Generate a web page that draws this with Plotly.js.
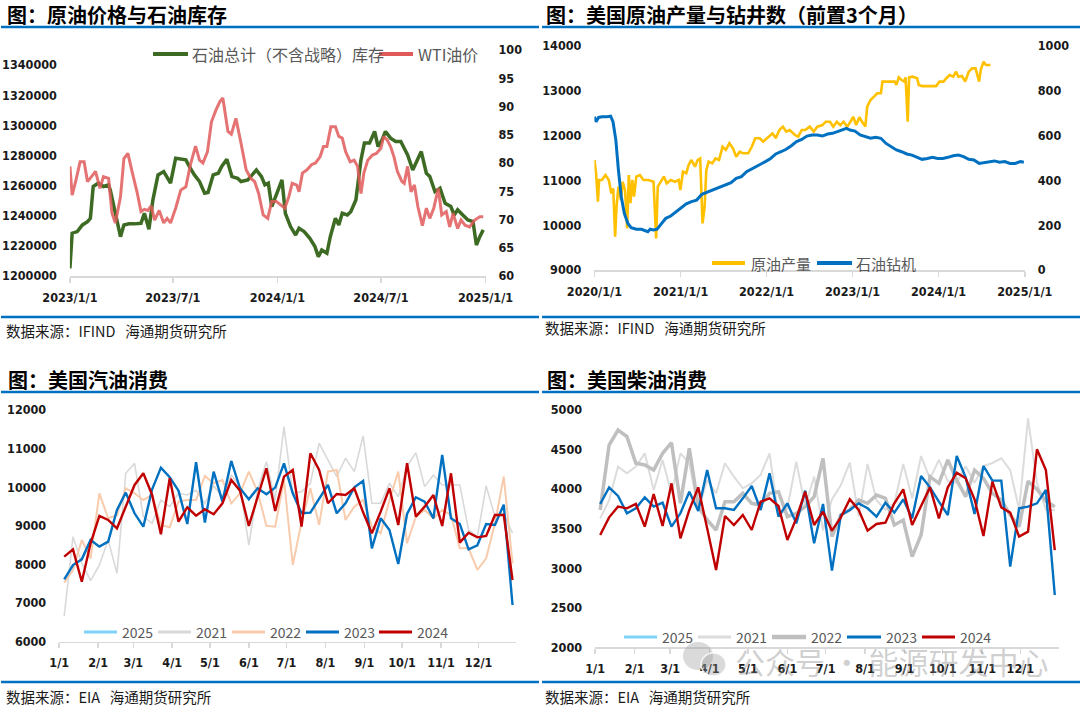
<!DOCTYPE html>
<html><head><meta charset="utf-8">
<script src="https://cdn.plot.ly/plotly-3.0.1.min.js"></script>
<style>html,body{margin:0;padding:0;background:#fff}#chart{width:1080px;height:708px}</style>
</head><body><div id="chart"></div>
<script>
// ---------- Panel 1: crude inventory (ex-SPR) & WTI ----------
const invDates = ["2023-01-01","2023-01-05","2023-01-14","2023-01-23","2023-02-01","2023-02-06","2023-02-11","2023-02-20","2023-03-01","2023-03-10","2023-03-13","2023-03-22","2023-03-31","2023-04-06","2023-04-15","2023-04-24","2023-05-06","2023-05-12","2023-05-20","2023-05-27","2023-06-05","2023-06-15","2023-06-27","2023-07-06","2023-07-15","2023-07-24","2023-07-30","2023-08-08","2023-08-17","2023-08-26","2023-09-01","2023-09-10","2023-09-19","2023-09-25","2023-10-04","2023-10-13","2023-10-23","2023-10-29","2023-11-10","2023-11-19","2023-11-25","2023-12-04","2023-12-10","2023-12-16","2023-12-22","2023-12-31","2024-01-09","2024-01-15","2024-01-24","2024-02-02","2024-02-08","2024-02-17","2024-02-27","2024-03-07","2024-03-13","2024-03-19","2024-03-28","2024-04-03","2024-04-12","2024-04-18","2024-04-24","2024-05-03","2024-05-09","2024-05-18","2024-05-27","2024-06-02","2024-06-11","2024-06-20","2024-06-26","2024-07-03","2024-07-09","2024-07-18","2024-07-27","2024-08-05","2024-08-11","2024-08-17","2024-08-26","2024-09-04","2024-09-10","2024-09-19","2024-09-25","2024-10-04","2024-10-13","2024-10-22","2024-11-01","2024-11-07","2024-11-13","2024-11-22","2024-12-01","2024-12-10","2024-12-16","2024-12-22","2024-12-28"];
const invValues = [1205100,1228400,1229500,1233900,1236100,1238300,1259400,1261600,1259400,1260500,1257100,1241600,1226100,1233900,1234600,1234600,1235000,1241600,1231000,1250500,1267100,1269300,1261600,1278200,1277500,1277100,1272700,1267100,1262700,1254900,1255400,1267100,1268200,1272700,1277500,1266000,1264900,1262700,1263800,1268200,1270400,1266000,1260500,1261600,1246100,1254900,1263800,1241600,1232800,1227200,1231700,1229500,1225000,1219500,1212800,1217300,1215100,1226100,1238300,1233900,1241600,1240500,1242700,1250500,1277100,1288200,1288200,1295900,1285900,1290400,1295900,1291500,1289300,1289300,1284800,1280400,1270400,1278200,1282600,1268200,1266000,1256000,1258300,1248300,1246100,1240500,1243900,1240500,1237200,1236100,1220600,1226100,1230600];
const wtiDates = ["2023-01-01","2023-01-05","2023-01-11","2023-01-19","2023-01-26","2023-02-01","2023-02-08","2023-02-15","2023-02-23","2023-03-01","2023-03-10","2023-03-16","2023-03-22","2023-03-31","2023-04-06","2023-04-13","2023-04-21","2023-04-29","2023-05-06","2023-05-12","2023-05-18","2023-05-24","2023-05-30","2023-06-07","2023-06-15","2023-06-21","2023-06-27","2023-07-06","2023-07-15","2023-07-24","2023-08-01","2023-08-10","2023-08-17","2023-08-23","2023-08-31","2023-09-07","2023-09-15","2023-09-22","2023-09-27","2023-10-06","2023-10-12","2023-10-20","2023-10-29","2023-11-07","2023-11-15","2023-11-22","2023-11-29","2023-12-07","2023-12-15","2023-12-22","2023-12-30","2024-01-06","2024-01-14","2024-01-21","2024-01-27","2024-02-04","2024-02-08","2024-02-14","2024-02-22","2024-03-01","2024-03-08","2024-03-16","2024-03-22","2024-03-28","2024-04-04","2024-04-12","2024-04-18","2024-04-24","2024-04-30","2024-05-08","2024-05-15","2024-05-21","2024-05-27","2024-06-01","2024-06-08","2024-06-16","2024-06-23","2024-07-01","2024-07-06","2024-07-12","2024-07-18","2024-07-24","2024-07-30","2024-08-07","2024-08-11","2024-08-17","2024-08-23","2024-08-29","2024-09-04","2024-09-12","2024-09-19","2024-09-25","2024-10-02","2024-10-10","2024-10-16","2024-10-24","2024-10-30","2024-11-05","2024-11-13","2024-11-19","2024-11-26","2024-12-04","2024-12-13","2024-12-22","2024-12-28"];
const wtiValues = [79.4,74.3,76.7,80.2,80.2,76.7,77.6,78.5,75.5,77.6,77.3,71.1,69.4,74.0,80.8,81.7,78.2,74.9,71.4,71.8,71.6,72.4,69.9,71.6,69.4,70.2,69.4,72.0,75.2,75.8,79.7,83.0,80.5,80.0,82.0,87.3,89.4,90.9,91.5,85.6,85.1,87.9,83.5,78.8,77.3,76.7,74.6,70.8,70.2,73.2,73.2,72.6,72.0,74.0,76.4,76.1,74.9,78.2,78.8,79.7,80.0,81.1,82.9,82.9,86.4,86.4,84.7,84.4,82.0,80.2,80.5,79.4,74.6,78.2,80.5,81.4,81.7,82.6,84.7,84.1,82.9,81.1,78.5,76.7,76.4,79.4,74.9,76.1,72.3,68.9,72.0,70.2,72.0,75.5,70.8,71.4,68.7,71.1,68.4,69.9,69.0,68.7,69.9,70.5,70.5];
const p1Ticks = ["2023-01-01","2023-07-01","2024-01-01","2024-07-01","2025-01-01"];
const p1TickText = ["2023/1/1","2023/7/1","2024/1/1","2024/7/1","2025/1/1"];

// ---------- Panel 2: US crude production & oil rigs (lead 3 months) ----------
const prodDates = ["2020-01-01","2020-01-08","2020-01-16","2020-01-21","2020-02-02","2020-02-17","2020-03-02","2020-03-13","2020-03-21","2020-03-29","2020-04-04","2020-04-12","2020-04-23","2020-04-30","2020-05-10","2020-05-19","2020-05-26","2020-06-02","2020-06-10","2020-06-17","2020-06-27","2020-07-12","2020-07-27","2020-08-17","2020-09-08","2020-09-19","2020-09-26","2020-10-08","2020-10-22","2020-11-03","2020-11-20","2020-12-08","2020-12-24","2020-12-31","2021-01-11","2021-01-25","2021-02-04","2021-02-16","2021-03-03","2021-03-14","2021-03-25","2021-04-04","2021-04-13","2021-04-20","2021-04-30","2021-05-15","2021-05-29","2021-06-13","2021-06-28","2021-07-12","2021-07-27","2021-08-11","2021-08-25","2021-09-09","2021-09-23","2021-10-15","2021-10-30","2021-11-14","2021-12-03","2021-12-17","2022-01-04","2022-01-26","2022-02-09","2022-02-24","2022-03-11","2022-03-25","2022-04-09","2022-05-01","2022-05-15","2022-05-30","2022-06-14","2022-07-03","2022-07-20","2022-08-04","2022-08-26","2022-09-09","2022-09-27","2022-10-11","2022-10-26","2022-11-10","2022-11-24","2022-12-09","2022-12-23","2023-01-04","2023-01-16","2023-01-30","2023-02-10","2023-02-24","2023-03-04","2023-03-18","2023-04-02","2023-04-16","2023-05-01","2023-05-08","2023-05-23","2023-06-07","2023-06-29","2023-07-06","2023-07-16","2023-07-28","2023-08-08","2023-08-14","2023-08-23","2023-08-29","2023-09-13","2023-10-02","2023-10-09","2023-10-23","2023-11-22","2023-12-21","2024-01-05","2024-01-22","2024-02-03","2024-02-17","2024-03-03","2024-03-15","2024-03-25","2024-04-09","2024-04-23","2024-05-08","2024-05-22","2024-06-06","2024-06-21","2024-06-28","2024-07-10","2024-07-20","2024-08-08"];
const prodValues = [11455,11160,10525,11010,11010,11120,11010,10710,10820,9745,10415,10860,10560,10970,10785,9930,11120,10490,11010,10640,11085,11120,11010,11010,10970,9705,10860,10970,11085,10935,11010,10970,11010,10785,11195,11160,11345,11455,11305,11455,11490,10040,10415,11230,11420,11380,11490,11455,11750,11680,11830,11715,11530,11640,11605,11605,11750,11940,11940,11865,11940,12050,11940,12125,12200,12090,12125,12015,11975,12125,12125,12200,12090,12200,12235,12310,12310,12200,12310,12235,12310,12200,12310,12420,12235,12410,12310,12200,12645,12795,12870,12945,12945,13205,13205,13205,13205,13130,13300,13240,13205,13300,12310,13300,13315,13280,13130,13105,13105,13105,13205,13205,13280,13350,13315,13425,13315,13330,13205,13425,13500,13500,13205,13465,13650,13575,13575];
const rigDates = ["2020-01-01","2020-01-08","2020-01-19","2020-02-02","2020-02-24","2020-03-10","2020-03-20","2020-04-01","2020-04-12","2020-04-24","2020-05-07","2020-05-22","2020-06-05","2020-06-27","2020-07-19","2020-08-03","2020-08-15","2020-08-25","2020-09-08","2020-09-23","2020-10-08","2020-10-30","2020-11-20","2020-12-12","2021-01-03","2021-01-25","2021-02-16","2021-03-10","2021-04-01","2021-04-23","2021-05-15","2021-06-13","2021-07-12","2021-08-03","2021-08-25","2021-09-16","2021-10-08","2021-11-06","2021-12-05","2021-12-27","2022-01-18","2022-02-09","2022-03-03","2022-03-25","2022-04-16","2022-05-08","2022-05-30","2022-06-21","2022-07-13","2022-08-04","2022-08-26","2022-09-17","2022-10-08","2022-10-30","2022-11-21","2022-12-06","2022-12-21","2023-01-11","2023-02-02","2023-02-24","2023-03-18","2023-04-09","2023-05-01","2023-05-23","2023-06-14","2023-07-06","2023-07-28","2023-08-19","2023-09-10","2023-10-02","2023-10-23","2023-11-14","2023-12-06","2023-12-28","2024-01-19","2024-02-10","2024-03-03","2024-03-25","2024-04-16","2024-05-08","2024-05-30","2024-06-21","2024-07-13","2024-08-03","2024-08-25","2024-09-16","2024-10-08","2024-10-30","2024-11-21","2024-12-13","2024-12-28"];
const rigValues = [684,662,681,684,684,687,662,580,446,327,253,208,189,182,182,176,171,182,179,182,201,231,241,260,275,295,305,312,338,347,357,369,382,390,409,417,439,454,472,484,498,518,528,539,555,573,583,598,603,603,598,607,610,618,628,632,625,620,603,595,588,592,588,565,551,536,528,518,513,503,494,498,503,498,498,503,510,513,506,494,491,476,479,484,487,481,484,476,476,484,481];
const p2Ticks = ["2020-01-01","2021-01-01","2022-01-01","2023-01-01","2024-01-01","2025-01-01"];
const p2TickText = ["2020/1/1","2021/1/1","2022/1/1","2023/1/1","2024/1/1","2025/1/1"];

// ---------- Panels 3 & 4: weekly gasoline / diesel demand by year ----------
const weekDates = ["01-05","01-12","01-19","01-26","02-02","02-09","02-16","02-23","03-02","03-09","03-16","03-23","03-30","04-06","04-13","04-20","04-27","05-04","05-11","05-18","05-25","06-01","06-08","06-15","06-22","06-29","07-06","07-13","07-20","07-27","08-03","08-10","08-17","08-24","08-31","09-07","09-14","09-21","09-28","10-05","10-12","10-19","10-26","11-02","11-09","11-16","11-23","11-30","12-07","12-14","12-21","12-28"];
const monthTickDates = ["01-01","02-01","03-01","04-01","05-01","06-01","07-01","08-01","09-01","10-01","11-01","12-01"];
const monthTickText = ["1/1","2/1","3/1","4/1","5/1","6/1","7/1","8/1","9/1","10/1","11/1","12/1"];
const yearNames = ["2025","2021","2022","2023","2024"];

const gas2021 = [6665,8720,8030,7580,7986,8634,7770,10361,10620,9238,9066,9670,9498,9843,9800,9929,9584,10033,9757,10318,10016,8504,9929,10663,9670,11570,9843,9886,10102,11138,10706,10275,10750,10404,11328,9584,9584,10102,9757,10534,10897,10016,10318,10059,10059,10059,8893,8720,10033,9238,9325,8807];
const gas2022 = [7529,7857,8634,8159,9843,9195,9282,9973,9843,9670,9800,9023,8962,9627,9670,9670,10292,10102,10188,9584,9843,10404,9886,9000,8979,10200,7986,9100,9973,9023,10404,10448,9152,9498,9670,8979,8807,9670,10404,8548,9239,9411,9195,9411,9282,8418,8418,7857,8159,9066,10275,8030];
const gas2023 = [7615,7986,8133,8634,8461,8591,9411,9860,9325,8979,9947,10508,10258,9912,9049,10646,9083,10404,9627,10681,9973,9688,9973,9817,9990,10620,9843,9325,9342,9713,10059,9325,9584,9998,10163,8418,9195,8893,8012,9308,9740,9627,9195,10836,9195,9049,8392,8496,9049,9023,9550,6950];
const gas2024 = [8202,8392,7554,8548,9256,9152,8936,9497,10059,10361,9800,8781,10232,9109,9480,9264,9429,9299,9584,10188,9912,8997,9757,10491,9385,10275,10448,8979,10879,10448,9584,9826,9800,9973,9350,8807,9368,9973,9023,10620,9239,9498,9800,8997,10361,8565,8824,8703,8738,9282,9282,7598];

const dsl2021 = [3630,3860,4284,4200,4284,4452,3990,4368,3946,4452,4326,3736,4115,3946,4326,4157,4010,4073,4180,4452,3652,3760,4347,3778,4157,3480,3870,4050,4336,3660,4318,3860,3740,3820,4318,3880,4418,4130,4370,4100,4080,4290,4080,4290,4330,4390,4240,3740,4894,4080,3740,3736];
const dsl2022 = [3736,4557,4747,4663,4326,4305,4241,4452,4587,3820,4515,3778,3609,3483,3841,3841,3946,3820,3799,3946,3967,3652,3694,3778,3904,4389,3399,3673,3736,3862,3820,3925,3883,3546,3609,3146,3420,4157,4073,4368,4115,3904,4241,4136,3946,3862,3673,3525,4100,4000,3850,3778];
const dsl2023 = [3812,4022,3913,3694,3757,3896,3778,3828,3525,3694,3967,3723,4241,3757,3757,3736,3883,4039,3736,4199,3652,3820,3567,3980,3314,3812,2969,3673,3736,3820,3757,3652,3828,3702,3871,3630,4166,4022,3841,3673,4418,4149,3685,4292,4107,4107,3020,3757,3778,3820,3989,2661];
const dsl2024 = [3420,3643,3778,3757,3812,3525,3938,3534,4073,3378,3736,4022,3504,2977,3660,3546,3673,3483,3841,3883,3786,3357,3630,3967,3546,3715,3475,3643,3871,3736,3475,3559,3576,3820,3997,3546,3786,4022,3630,4022,4208,4136,3871,3407,4094,3769,3702,3399,3462,4503,4241,3230];

// ---------- helpers ----------
const W = 1080, H = 708;
const px = x => x / W, py = y => 1 - y / H;
const CJK = '"Noto Sans CJK SC", "Noto Sans", sans-serif';
const NUM = '"DejaVu Sans Condensed", "Liberation Sans", Arial, sans-serif';
const tickFont = {family: NUM, size: 12.5, color: '#1a1a1a', weight: 'bold'};
const seasonX = weekDates.map(d => '2001-' + d);
const monthTicks = monthTickDates.map(d => '2001-' + d);

function line(x, y, xa, ya, color, width, extra) {
  return Object.assign({type: 'scatter', mode: 'lines', x, y, xaxis: xa, yaxis: ya,
    line: {color, width}, hoverinfo: 'skip', showlegend: false}, extra || {});
}

const data = [
  line(invDates, invValues, 'x', 'y', '#3e6b24', 3.5, {name: '石油总计（不含战略）库存'}),
  line(wtiDates, wtiValues, 'x', 'y2', '#e05a5a', 3, {name: 'WTI油价', opacity: 0.85}),
  line(prodDates, prodValues, 'x2', 'y3', '#ffc000', 2.6, {name: '原油产量'}),
  line(rigDates, rigValues, 'x2', 'y4', '#0070c0', 3, {name: '石油钻机'}),
  line(seasonX, gas2021, 'x3', 'y5', '#d9d9d9', 1.6, {name: '2021'}),
  line(seasonX, gas2022, 'x3', 'y5', '#f8cbad', 2, {name: '2022'}),
  line(seasonX, gas2023, 'x3', 'y5', '#0070c0', 2.4, {name: '2023'}),
  line(seasonX, gas2024, 'x3', 'y5', '#c00000', 2.4, {name: '2024'}),
  line(seasonX, dsl2021, 'x4', 'y6', '#dcdcdc', 2, {name: '2021'}),
  line(seasonX, dsl2022, 'x4', 'y6', '#bfbfbf', 3.5, {name: '2022'}),
  line(seasonX, dsl2023, 'x4', 'y6', '#0070c0', 2.4, {name: '2023'}),
  line(seasonX, dsl2024, 'x4', 'y6', '#c00000', 2.4, {name: '2024'})
];

function xAx(domain, anchor, range, tickvals, ticktext) {
  return {domain, anchor, type: 'date', range, tickvals, ticktext, showgrid: false, zeroline: false,
    showline: true, linecolor: '#d9d9d9', linewidth: 1.5, ticks: 'outside', ticklen: 5,
    tickcolor: '#d9d9d9', tickwidth: 1.5, tickfont: tickFont, ticklabelstandoff: 4, fixedrange: true};
}
function yAx(domain, anchor, range, tick0, dtick, side, overlaying) {
  const a = {domain, anchor, range, tick0, dtick, tickmode: 'linear', tickformat: 'd', showgrid: false,
    zeroline: false, showline: false, ticks: '', tickfont: tickFont, ticklabelstandoff: 12,
    side: side || 'left', fixedrange: true};
  if (overlaying) a.overlaying = overlaying;
  return a;
}

const layout = {
  width: W, height: H, margin: {l: 0, r: 0, t: 0, b: 0},
  paper_bgcolor: '#ffffff', plot_bgcolor: 'rgba(0,0,0,0)', showlegend: false,
  xaxis: xAx([px(69.9), px(485.5)], 'y', ['2023-01-01', '2025-01-01'], p1Ticks, p1TickText),
  yaxis: yAx([py(276), py(50)], 'x', [1200000, 1350000], 1200000, 20000),
  yaxis2: yAx([py(276), py(50)], 'x', [60, 100], 60, 5, 'right', 'y'),
  xaxis2: xAx([px(594.4), px(1024.8)], 'y3', ['2020-01-01', '2025-01-01'], p2Ticks, p2TickText),
  yaxis3: yAx([py(270), py(46)], 'x2', [9000, 14000], 9000, 1000),
  yaxis4: yAx([py(270), py(46)], 'x2', [0, 1000], 0, 200, 'right', 'y3'),
  xaxis3: xAx([px(59.2), px(516.3)], 'y5', ['2001-01-01', '2001-12-31'], monthTicks, monthTickText),
  yaxis5: yAx([py(641.7), py(410)], 'x3', [6000, 12000], 6000, 1000),
  xaxis4: xAx([px(595.1), px(1058.6)], 'y6', ['2001-01-01', '2001-12-31'], monthTicks, monthTickText),
  yaxis6: yAx([py(647.3), py(410)], 'x4', [2000, 5000], 2000, 500),
  shapes: [],
  annotations: []
};

function hline(x0, x1, y, color, width) {
  layout.shapes.push({type: 'line', xref: 'paper', yref: 'paper', x0: px(x0), x1: px(x1), y0: py(y), y1: py(y),
    line: {color, width}});
}
function text(t, x, y, font, xanchor) {
  layout.annotations.push({text: t, x: px(x), y: py(y), xref: 'paper', yref: 'paper', showarrow: false,
    xanchor: xanchor || 'left', yanchor: 'middle', font});
}
const titleFont = {family: CJK, size: 20, color: '#000000', weight: 'bold'};
const srcFont = {family: CJK, size: 14.5, color: '#1a1a1a'};
const NB = '\u00a0';

// separators
const BLUE = '#0070c0';
hline(1, 539, 27, BLUE, 2.6); hline(542, 1080, 27, BLUE, 2.6);
hline(1, 539, 317, BLUE, 2.6); hline(542, 1080, 317, BLUE, 2.6);
hline(1, 539, 392, BLUE, 2.6); hline(542, 1080, 392, BLUE, 2.6);
hline(1, 539, 682, BLUE, 2.6); hline(542, 1080, 682, BLUE, 2.6);

// titles
text('图：原油价格与石油库存', 5, 15, titleFont);
text('图：美国原油产量与钻井数（前置3个月）', 544, 15, titleFont);
text('图：美国汽油消费', 6, 379, titleFont);
text('图：美国柴油消费', 545, 379, titleFont);

// sources
text('数据来源：IFIND' + NB + NB + NB + '海通期货研究所', 4, 331, srcFont);
text('数据来源：IFIND' + NB + NB + NB + '海通期货研究所', 543, 328, srcFont);
text('数据来源：EIA' + NB + NB + NB + '海通期货研究所', 4, 696, srcFont);
text('数据来源：EIA' + NB + NB + NB + '海通期货研究所', 543, 696, srcFont);

// legends (manual)
const lgFont1 = {family: CJK, size: 16, color: '#595959'};
hline(153, 188, 54, '#3e6b24', 4); text('石油总计（不含战略）库存', 190, 54, lgFont1);
hline(379, 413, 54, '#e05a5a', 4); text('WTI油价', 416, 54, lgFont1);
const lgFont2 = {family: CJK, size: 15, color: '#595959'};
hline(712, 745, 263, '#ffc000', 4); text('原油产量', 749, 263, lgFont2);
hline(817, 852, 263, '#0070c0', 4); text('石油钻机', 854, 263, lgFont2);
const lgFont3 = {family: CJK, size: 14, color: '#595959'};
const gasLeg = [[84, 117, '#7fd3f7', 3], [158, 191, '#d9d9d9', 3], [232, 265, '#f8cbad', 3], [306, 339, '#0070c0', 3], [379, 412, '#c00000', 3]];
gasLeg.forEach((g, i) => { hline(g[0], g[1], 632, g[2], g[3]); text(yearNames[i], g[1] + 3, 632, lgFont3); });
const dslLeg = [[624, 657, '#7fd3f7', 3], [698, 731, '#dcdcdc', 3], [772, 806, '#bfbfbf', 4.5], [847, 881, '#0070c0', 3], [922, 955, '#c00000', 3]];
dslLeg.forEach((g, i) => { hline(g[0], g[1], 637, g[2], g[3]); text(yearNames[i], g[1] + 3, 637, lgFont3); });

// watermark
layout.shapes.push({type: 'circle', xref: 'paper', yref: 'paper', x0: px(683), x1: px(713), y0: py(670), y1: py(642),
  fillcolor: 'rgba(150,150,150,0.35)', line: {width: 0}});
layout.shapes.push({type: 'circle', xref: 'paper', yref: 'paper', x0: px(701), x1: px(726), y0: py(676), y1: py(653),
  fillcolor: 'rgba(150,150,150,0.35)', line: {color: 'rgba(255,255,255,0.8)', width: 1.5}});
text('公众号' + NB + '·' + NB + '能源研发中心', 733, 661, {family: CJK, size: 30, color: 'rgba(130,130,130,0.38)'});

Plotly.newPlot('chart', data, layout, {staticPlot: true, displayModeBar: false});
</script>
</body></html>
